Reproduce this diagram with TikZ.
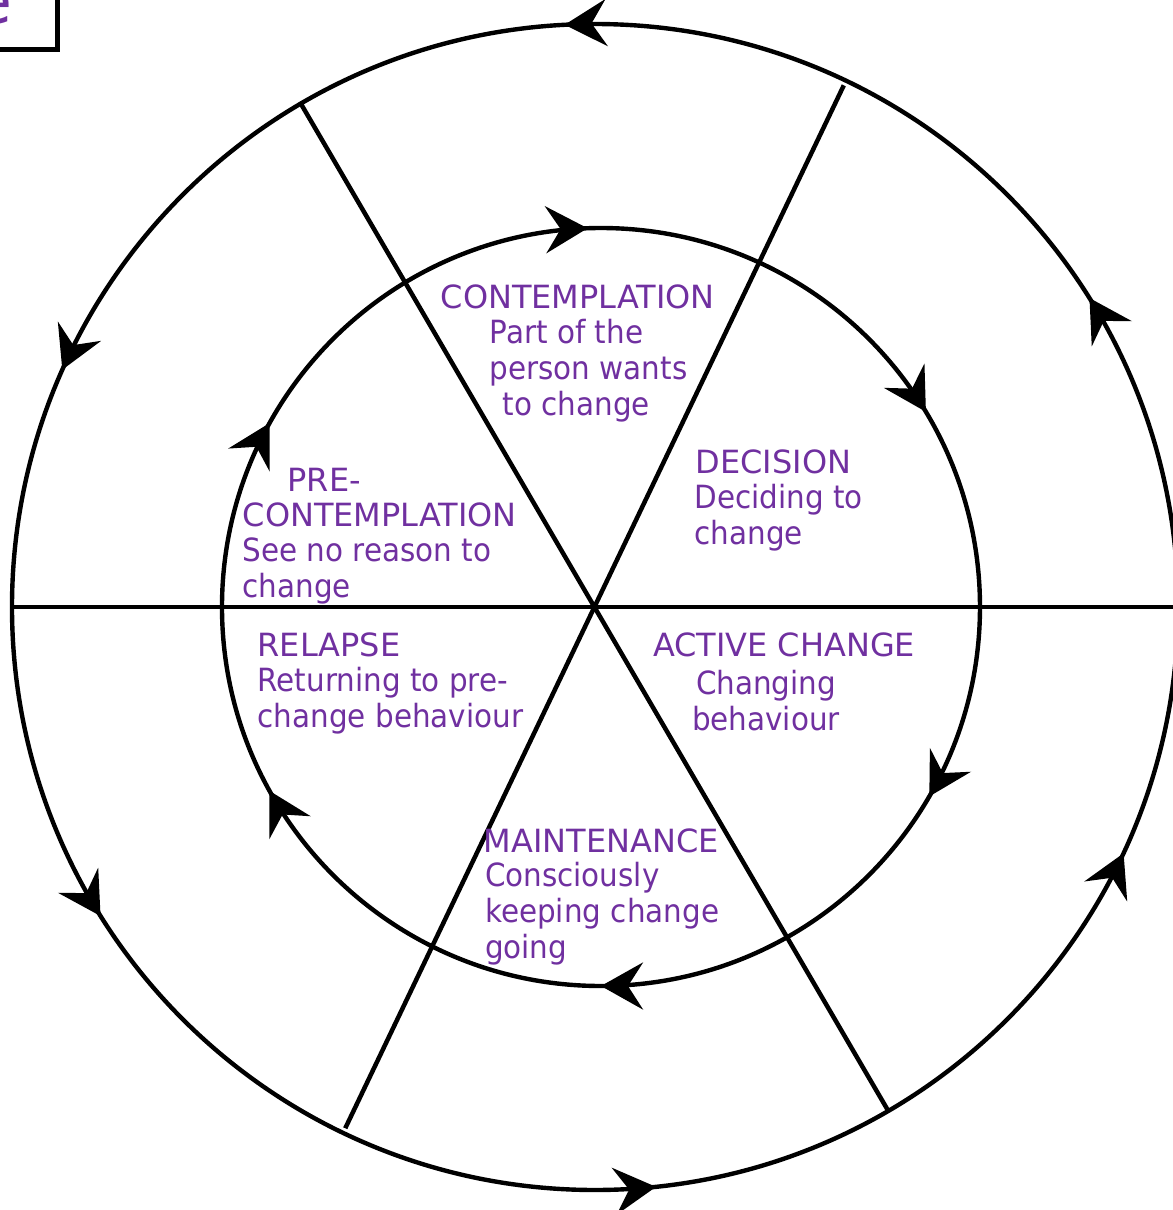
\documentclass[tikz,border=0pt]{standalone}
\usepackage{fontspec}
\setmainfont{DejaVu Sans}
\newfontfamily\bodyfont[FakeStretch=0.92]{DejaVu Sans}
\usepackage{xcolor}
\usetikzlibrary{arrows.meta,decorations.markings}

\definecolor{stagepurple}{RGB}{112,48,160}

\begin{document}
\begin{tikzpicture}[
    x=0.1mm, y=0.1mm,
    >={Stealth[length=4.2mm, width=4.7mm, inset=1.5mm]},
    ring/.style={line width=0.44mm},
    spoke/.style={line width=0.45mm},
    outerring/.style={ring, postaction={decorate}, decoration={markings,
        mark=at position 0.0889 with {\arrow{>}},
        mark=at position 0.2583 with {\arrow{>}},
        mark=at position 0.4333 with {\arrow{>}},
        mark=at position 0.5889 with {\arrow{>}},
        mark=at position 0.7667 with {\arrow{>}},
        mark=at position 0.9306 with {\arrow{>}}}},
    innerring/.style={ring, postaction={decorate}, decoration={markings,
        mark=at position 0.0861 with {\arrowreversed{>}},
        mark=at position 0.2556 with {\arrowreversed{>}},
        mark=at position 0.4194 with {\arrowreversed{>}},
        mark=at position 0.5806 with {\arrowreversed{>}},
        mark=at position 0.7500 with {\arrowreversed{>}},
        mark=at position 0.9167 with {\arrowreversed{>}}}},
    stagetitle/.style={text=stagepurple, font=\fontsize{9.1}{10.15}\selectfont, align=left, anchor=base west, inner sep=0pt},
    stagetext/.style={stagetitle, font=\bodyfont\fontsize{9.1}{10.15}\selectfont}
]
    \useasboundingbox (-595,-603) rectangle (578,607);
    \clip (-595,-603) rectangle (578,607);

    % Centre and spoke ends
    \coordinate (c) at (0,0);
    \coordinate (ic) at (6,0);
    \coordinate (w) at (180:583);
    \coordinate (e) at (0:600);
    \coordinate (nw) at (120.3:585);
    \coordinate (se) at (-59.8:582);
    \coordinate (ne) at (64.5:578);
    \coordinate (sw) at (244.4:578);

    % Title box (cut off)
    \draw[line width=0.5mm] (-700,558) rectangle (-537,700);
    \node[text=stagepurple, font=\fontsize{18}{18}\selectfont, anchor=base east, inner sep=0pt] (title) at (-582,584) {e};

    % Rings
    \draw[outerring] (c) circle (583);
    \draw[innerring] (ic) circle (379);

    % Spokes
    \draw[spoke] (w) -- (e);
    \draw[spoke] (nw) -- (se);
    \draw[spoke] (ne) -- (sw);

    % Stages (a node's base is its last line)
    \node[stagetitle] (contemplation) at (-155,299) {CONTEMPLATION};
    \node[stagetext] (contemplationtext) at (-106,192) {Part of the\\person wants\\\hspace*{1.3mm}to change};

    \node[stagetitle] (decision) at (100,133.7) {DECISION};
    \node[stagetext] (decisiontext) at (99,63) {Deciding to\\change};

    \node[stagetitle] (precontemplation) at (-353,80.3) {\hspace*{4.5mm}PRE-\\CONTEMPLATION};
    \node[stagetext] (precontemplationtext) at (-353,10) {See no reason to\\change};

    \node[stagetitle] (active) at (57.4,-49.7) {ACTIVE CHANGE};
    \node[stagetext] (activetext) at (96.4,-123) {\hspace*{0.4mm}Changing\\behaviour};

    \node[stagetitle] (relapse) at (-338,-49.7) {RELAPSE};
    \node[stagetext] (relapsetext) at (-338,-120.3) {Returning to pre-\\change behaviour};

    \node[stagetitle] (maintenance) at (-112,-245.7) {MAINTENANCE};
    \node[stagetext] (maintenancetext) at (-110.6,-351.3) {Consciously\\keeping change\\going};
\end{tikzpicture}
\end{document}
